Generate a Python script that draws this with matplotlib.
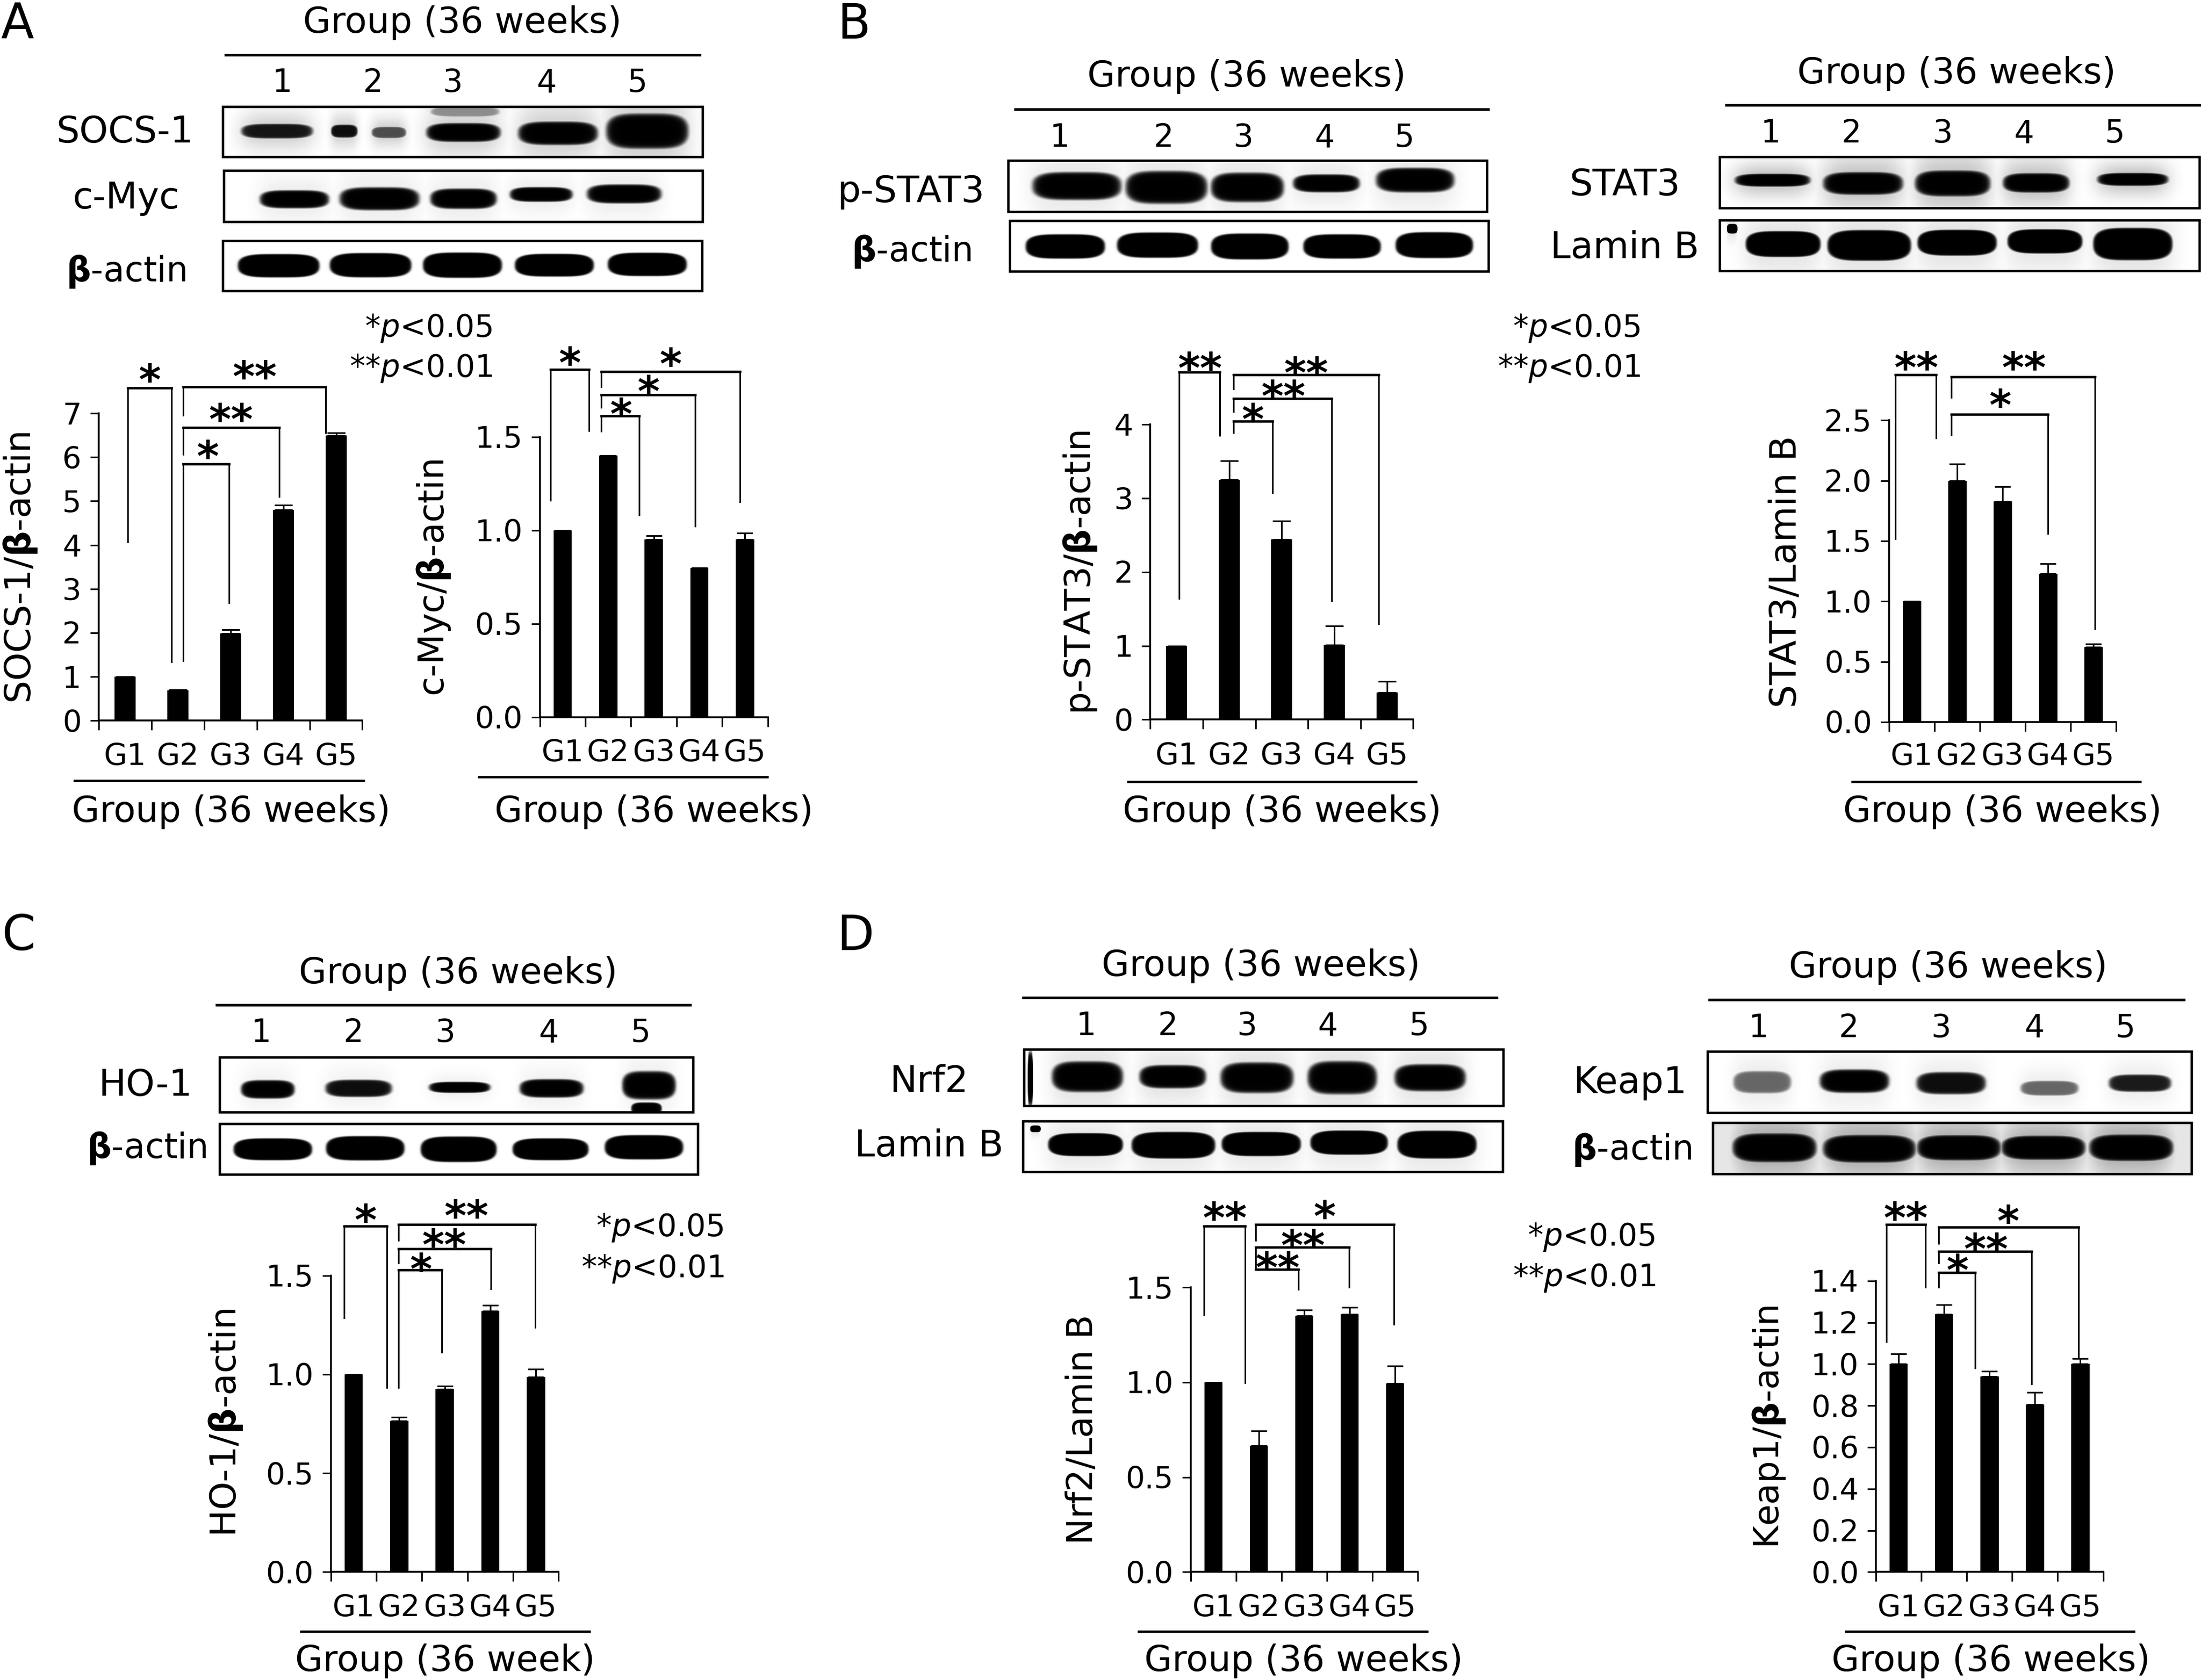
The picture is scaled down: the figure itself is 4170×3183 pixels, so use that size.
import numpy as np
import matplotlib
matplotlib.use("Agg")
import matplotlib.pyplot as plt
from matplotlib.patches import Rectangle

W, H = 4170, 3183
plt.rcParams['font.family'] = ['DejaVu Sans']
plt.rcParams['mathtext.fontset'] = 'dejavusans'
PX = 0.72  # points per output pixel at dpi 100

# ---------- data ----------
groups = ['G1', 'G2', 'G3', 'G4', 'G5']
lanes = ['1', '2', '3', '4', '5']

socs1_vals = [1.0, 0.69, 1.99, 4.8, 6.5]
socs1_errs = [0.0, 0.01, 0.08, 0.11, 0.05]
cmyc_vals = [1.0, 1.4, 0.95, 0.8, 0.95]
cmyc_errs = [0.0, 0.0, 0.02, 0.0, 0.035]
pstat3_vals = [1.0, 3.25, 2.44, 1.01, 0.37]
pstat3_errs = [0.0, 0.26, 0.25, 0.26, 0.15]
stat3_vals = [1.0, 2.0, 1.83, 1.23, 0.62]
stat3_errs = [0.0, 0.14, 0.12, 0.08, 0.025]
ho1_vals = [1.0, 0.765, 0.925, 1.32, 0.985]
ho1_errs = [0.0, 0.018, 0.015, 0.03, 0.04]
nrf2_vals = [1.0, 0.665, 1.35, 1.36, 0.995]
nrf2_errs = [0.0, 0.08, 0.03, 0.035, 0.09]
keap1_vals = [1.0, 1.24, 0.94, 0.805, 1.0]
keap1_errs = [0.05, 0.045, 0.025, 0.06, 0.025]

tick_0_7 = [0, 1, 2, 3, 4, 5, 6, 7]
tick_0_4 = [0, 1, 2, 3, 4]
tick_15 = [0.0, 0.5, 1.0, 1.5]
tick_25 = [0.0, 0.5, 1.0, 1.5, 2.0, 2.5]
tick_14 = [0.0, 0.2, 0.4, 0.6, 0.8, 1.0, 1.2, 1.4]

# crop frames used to read layout: origin x, scale x, origin y, scale y
Z1 = (0, 1560 / 1568, 0, 800 / 1568)
Z2 = (0, 1560 / 1568, 600, 1000 / 1568)
Z3 = (1560, 2610 / 1568, 0, 800 / 1568)
Z4 = (1900, 2270 / 1568, 600, 1000 / 1568)
Z5 = (1560, 2610 / 1568, 1700, 600 / 1568)
Z6 = (0, 1500 / 1568, 1700, 600 / 1568)
Z7 = (300, 1200 / 1568, 2250, 933 / 1568)
Z8 = (1950, 2220 / 1568, 2250, 933 / 1568)

BETA = r'$\mathbf{\beta}$'
PV = r'$\mathit{p}$'
TEXT_SIZE = 49
LABEL_SIZE = 50
ACTIN_SIZE = 47
TICK_SIZE = 41

fig = plt.figure(figsize=(W / 100, H / 100), dpi=100, facecolor='white')
ov = fig.add_axes([0, 0, 1, 1], zorder=10)
ov.axis('off')
ov.patch.set_alpha(0)


def px(z, x):
    return z[0] + x * z[1]


def py(z, y):
    return z[2] + y * z[3]


def txt(z, x, y, s, size=TEXT_SIZE, ha='center', **kw):
    ov.text(px(z, x), py(z, y), s, fontsize=size, ha=ha, va='baseline',
            color='black', **kw)


def hline(z, x0, x1, y, lw=5):
    ov.plot([px(z, x0), px(z, x1)], [py(z, y)] * 2, color='black',
            lw=lw * PX, solid_capstyle='butt')


def star(z, x, yc, s, size=58):
    em = size / PX
    ov.text(px(z, x), py(z, yc) + 0.52 * em, s, fontsize=size, ha='center',
            va='baseline', color='black', fontweight='bold')


def bracket(z, xl, yl, xr, yr, yt, s, sx, sy):
    ov.plot([px(z, xl), px(z, xl), px(z, xr), px(z, xr)],
            [py(z, yl), py(z, yt), py(z, yt), py(z, yr)],
            color='black', lw=3 * PX, solid_joinstyle='miter')
    ov.plot([px(z, xl), px(z, xr)], [py(z, yt)] * 2, color='black', lw=4.5 * PX)
    star(z, sx, sy, s)


def blot(z, box, bands, label, lx, lbase, haze=0.12, bg=0.0, sharp=7):
    x0, x1 = px(z, box[0]), px(z, box[1])
    y0, y1 = py(z, box[2]), py(z, box[3])
    xs = np.arange(x0, x1)
    ys = np.arange(y0, y1)
    X, Y = np.meshgrid(xs, ys)
    dark = np.full(X.shape, float(bg))
    for b in bands:
        cx, cy = px(z, b[0]), py(z, b[1])
        w, h = b[2] * z[1], b[3] * z[3] * 1.2
        amp = b[4] if len(b) > 4 else 1.0
        dx, dy = (X - cx) / (w / 2), (Y - cy) / (h / 2)
        d = np.abs(dx) ** 4 + np.abs(dy) ** 2.6
        core = amp / (1 + np.exp(np.clip((d - 1) * sharp, -30, 30)))
        hz = haze * np.exp(-(np.abs(dx) / 1.05) ** 4 - (dy / 2.6) ** 2)
        dark = np.maximum(dark, np.maximum(core, hz))
    ov.imshow(1 - dark, extent=(x0, x1, y1, y0), cmap='gray', vmin=0, vmax=1,
              aspect='auto', interpolation='bilinear', zorder=1)
    ov.add_patch(Rectangle((x0, y0), x1 - x0, y1 - y0, fill=False,
                           ec='black', lw=4.5 * PX, zorder=2))
    size = ACTIN_SIZE if 'actin' in label else LABEL_SIZE
    txt(z, lx, lbase, label, size=size)


def chart(z, x0, x1, y0, yt, ymax, ticks, tlab, vals, errs, ylabel, ylab_x, ylab_y,
          ylab_size, lab_base, line, title, title_x, title_base,
          title_text='Group (36 weeks)'):
    X0, X1 = px(z, x0), px(z, x1)
    Y0, YT = py(z, y0), py(z, yt)
    ax = fig.add_axes([X0 / W, 1 - Y0 / H, (X1 - X0) / W, (Y0 - YT) / H])
    pos = np.arange(5) + 0.5
    ax.bar(pos, vals, width=0.4, color='black')
    bw = 0.4 * (X1 - X0) / 5
    ax.errorbar(pos, vals, yerr=[np.zeros(5), errs], fmt='none', ecolor='black',
                elinewidth=3 * PX, capsize=0.43 * bw * PX, capthick=3 * PX)
    ax.set_xlim(0, 5)
    ax.set_ylim(0, ymax)
    for side in ('top', 'right'):
        ax.spines[side].set_visible(False)
    for side in ('left', 'bottom'):
        ax.spines[side].set_linewidth(3.5 * PX)
    ax.patch.set_alpha(0)
    ax.set_yticks(ticks, tlab)
    ax.tick_params(axis='y', length=16 * PX, width=3 * PX, labelsize=TICK_SIZE, pad=12)
    ax.set_xticks(np.arange(6), minor=True)
    ax.tick_params(axis='x', which='minor', length=18 * PX, width=3 * PX)
    ax.set_xticks(pos, groups)
    pad = ((lab_base - y0) * z[3] - 42) * PX
    ax.tick_params(axis='x', which='major', length=0, labelsize=TICK_SIZE, pad=pad)
    ov.text(px(z, ylab_x), py(z, ylab_y), ylabel, rotation=90, fontsize=ylab_size,
            ha='center', va='baseline', rotation_mode='anchor', color='black')
    hline(z, line[0], line[1], line[2], lw=4.5)
    txt(z, title_x, title_base, title_text)


def pnote(z, x, y1, y2, size=42):
    txt(z, x, y1, '*' + PV + '<0.05', size=size, ha='right')
    txt(z, x, y2, '**' + PV + '<0.01', size=size, ha='right')


def header(z, cx, base, lx0, lx1, ly, xs, dbase):
    txt(z, cx, base, 'Group (36 weeks)')
    hline(z, lx0, lx1, ly)
    for x, s in zip(xs, lanes):
        txt(z, x, dbase, s, size=43)


# ---------- panel A ----------
txt(Z1, 33, 143, 'A', size=66)
header(Z1, 880, 122, 427, 1335, 203, [537, 710, 862, 1040, 1214], 342)
blot(Z1, (424, 1338, 395, 583),
     [(527, 487, 135, 45, .92), (655, 487, 50, 40, .95), (740, 492, 65, 35, .7),
      (882, 492, 140, 58), (1062, 495, 150, 72), (1232, 487, 155, 108),
      (885, 415, 130, 30, .45)],
     'SOCS-1', 238, 530, haze=.2)
blot(Z1, (426, 1338, 634, 824),
     [(560, 740, 130, 55), (722, 738, 150, 70), (882, 738, 125, 62),
      (1030, 722, 118, 45), (1188, 720, 140, 58)],
     'c-Myc', 240, 775, haze=.08)
blot(Z1, (424, 1337, 893, 1080),
     [(530, 987, 155, 72), (705, 985, 155, 75), (880, 985, 150, 78),
      (1055, 985, 150, 70), (1232, 982, 150, 72)],
     BETA + '-actin', 240, 1045, haze=.0, sharp=14)
pnote(Z1, 938, 1250, 1400)
chart(Z2, 188, 690, 1200, 287, 7, tick_0_7, [str(t) for t in tick_0_7],
      socs1_vals, socs1_errs, 'SOCS-1/' + BETA + '-actin', 58, 745, 49,
      1332, (140, 695, 1378), None, 440, 1500)
bracket(Z2, 243, 670, 327, 1025, 212, '*', 285, 165)
bracket(Z2, 349, 293, 620, 345, 209, '**', 485, 155)
bracket(Z2, 349, 410, 532, 535, 330, '**', 440, 283)
bracket(Z2, 349, 1022, 436, 850, 438, '*', 395, 392)
chart(Z2, 1028, 1462, 1190, 357, 1.5, tick_15, ['%.1f' % t for t in tick_15],
      cmyc_vals, cmyc_errs, 'c-Myc/' + BETA + '-actin', 845, 775, 48,
      1320, (910, 1463, 1368), None, 1245, 1500)
bracket(Z2, 1048, 545, 1122, 338, 157, '*', 1085, 115)
bracket(Z2, 1145, 208, 1409, 550, 163, '*', 1277, 118)
bracket(Z2, 1145, 270, 1324, 622, 232, '*', 1235, 200)
bracket(Z2, 1145, 340, 1217, 590, 295, '*', 1182, 267)

# ---------- panel B ----------
txt(Z3, 35, 143, 'B', size=66)
header(Z3, 482, 322, 217, 758, 405, [269, 387, 478, 570, 661], 545)
blot(Z3, (210, 755, 596, 785),
     [(288, 690, 100, 85), (390, 695, 92, 100), (482, 695, 82, 90),
      (572, 680, 75, 55), (673, 668, 88, 75)],
     'p-STAT3', 100, 750, haze=.1)
blot(Z3, (212, 757, 820, 1008),
     [(275, 915, 90, 75), (380, 910, 92, 78), (485, 915, 88, 80),
      (590, 915, 88, 75), (695, 910, 88, 80)],
     BETA + '-actin', 100, 970, haze=.0, sharp=14)
header(Z3, 1290, 310, 1026, 1568, 390, [1078, 1170, 1274, 1366, 1470], 530)
blot(Z3, (1020, 1566, 582, 772),
     [(1080, 668, 85, 40), (1183, 680, 90, 70), (1285, 680, 85, 80),
      (1380, 678, 75, 60), (1490, 665, 80, 40)],
     'STAT3', 912, 725, haze=.25)
blot(Z3, (1020, 1566, 817, 1005),
     [(1092, 905, 85, 80), (1190, 910, 95, 95), (1290, 900, 90, 80),
      (1390, 895, 85, 75), (1490, 905, 90, 100), (1034, 848, 12, 30)],
     'Lamin B', 912, 958, haze=.12, sharp=14)
pnote(Z3, 930, 1250, 1400)
chart(Z4, 193, 537, 1197, 320, 4, tick_0_4, [str(t) for t in tick_0_4],
      pstat3_vals, pstat3_errs, 'p-STAT3/' + BETA + '-actin', 115, 760, 48.5,
      1330, (162, 542, 1381), None, 365, 1500)
bracket(Z4, 231, 838, 284, 353, 165, '**', 258, 130)
bracket(Z4, 302, 215, 492, 912, 172, '**', 397, 145)
bracket(Z4, 302, 283, 430, 845, 243, '**', 367, 213)
bracket(Z4, 302, 345, 353, 523, 310, '*', 327, 283)
chart(Z4, 1160, 1457, 1204, 308, 2.5, tick_25, ['%.1f' % t for t in tick_25],
      stat3_vals, stat3_errs, 'STAT3/Lamin B', 1038, 757, 50,
      1332, (1110, 1490, 1381), None, 1308, 1500)
bracket(Z4, 1168, 660, 1221, 360, 172, '**', 1195, 128)
bracket(Z4, 1241, 240, 1429, 928, 178, '**', 1336, 128)
bracket(Z4, 1241, 352, 1368, 645, 290, '*', 1305, 240)

# ---------- panel C ----------
txt(Z6, 37, 262, 'C', size=66)
header(Z6, 907, 425, 427, 1369, 534, [517, 700, 882, 1086, 1268], 717)
blot(Z6, (435, 1373, 792, 1063),
     [(530, 950, 105, 75), (710, 945, 130, 70, .95), (910, 940, 120, 45),
      (1092, 945, 125, 75), (1285, 930, 105, 115), (1280, 1045, 60, 50)],
     'HO-1', 288, 983, haze=.06)
blot(Z6, (435, 1382, 1122, 1373),
     [(540, 1250, 155, 90), (723, 1245, 155, 100), (908, 1250, 150, 105),
      (1090, 1250, 150, 90), (1275, 1240, 155, 100)],
     BETA + '-actin', 290, 1290, haze=.0, sharp=14)
chart(Z7, 427, 991, 1224, 280, 1.5, tick_15, ['%.1f' % t for t in tick_15],
      ho1_vals, ho1_errs, 'HO-1/' + BETA + '-actin', 192, 750, 49,
      1365, (350, 1070, 1414), None, 710, 1540,
      title_text='Group (36 week)')
bracket(Z7, 460, 415, 566, 637, 122, '*', 513, 80)
bracket(Z7, 594, 168, 933, 445, 117, '**', 762, 65)
bracket(Z7, 594, 240, 823, 322, 195, '**', 708, 158)
bracket(Z7, 594, 637, 702, 525, 263, '*', 650, 235)
pnote(Z7, 1400, 155, 285)

# ---------- panel D ----------
txt(Z5, 37, 262, 'D', size=66)
header(Z5, 498, 390, 226, 768, 497, [299, 392, 482, 574, 678], 683)
blot(Z5, (228, 774, 753, 1033),
     [(300, 890, 80, 125), (397, 890, 75, 95), (493, 895, 82, 125),
      (590, 895, 78, 135), (690, 895, 80, 110), (235, 900, 6, 220)],
     'Nrf2', 120, 965, haze=.12)
blot(Z5, (227, 773, 1107, 1358),
     [(298, 1225, 85, 95), (398, 1228, 95, 110), (498, 1222, 90, 100),
      (598, 1215, 88, 100), (698, 1225, 90, 115), (241, 1147, 12, 28)],
     'Lamin B', 120, 1282, haze=.1, sharp=14)
header(Z5, 1280, 398, 1007, 1550, 506, [1064, 1167, 1272, 1378, 1482], 692)
blot(Z5, (1006, 1557, 764, 1065),
     [(1068, 915, 65, 90, .6), (1173, 910, 78, 95), (1283, 920, 78, 90, .95),
      (1395, 945, 65, 60, .6), (1498, 920, 70, 70, .9)],
     'Keap1', 918, 970, haze=.08)
blot(Z5, (1012, 1557, 1117, 1370),
     [(1082, 1240, 95, 120), (1190, 1245, 105, 115), (1292, 1240, 95, 105),
      (1388, 1240, 95, 100), (1488, 1240, 95, 110)],
     BETA + '-actin', 920, 1300, haze=.35, bg=.1, sharp=8)
chart(Z8, 216, 520, 1224, 318, 1.5, tick_15, ['%.1f' % t for t in tick_15],
      nrf2_vals, nrf2_errs, 'Nrf2/Lamin B', 85, 770, 48,
      1365, (145, 534, 1414), None, 367, 1540)
bracket(Z8, 234, 405, 289, 622, 122, '**', 262, 72)
bracket(Z8, 303, 168, 488, 435, 117, '*', 395, 68)
bracket(Z8, 303, 240, 428, 317, 190, '**', 366, 160)
bracket(Z8, 303, 240, 360, 325, 260, '**', 332, 230)
pnote(Z8, 838, 185, 315)
chart(Z8, 1133, 1437, 1224, 297, 1.4, tick_14, ['%.1f' % t for t in tick_14],
      keap1_vals, keap1_errs, 'Keap1/' + BETA + '-actin', 1003, 762, 47.5,
      1365, (1091, 1480, 1414), None, 1287, 1540)
bracket(Z8, 1147, 490, 1199, 318, 118, '**', 1173, 72)
bracket(Z8, 1217, 178, 1404, 545, 126, '*', 1310, 82)
bracket(Z8, 1217, 240, 1341, 625, 203, '**', 1280, 172)
bracket(Z8, 1217, 318, 1266, 575, 270, '*', 1242, 238)

ov.set_xlim(0, W)
ov.set_ylim(H, 0)
fig.savefig('out.png', dpi=100, facecolor='white')
